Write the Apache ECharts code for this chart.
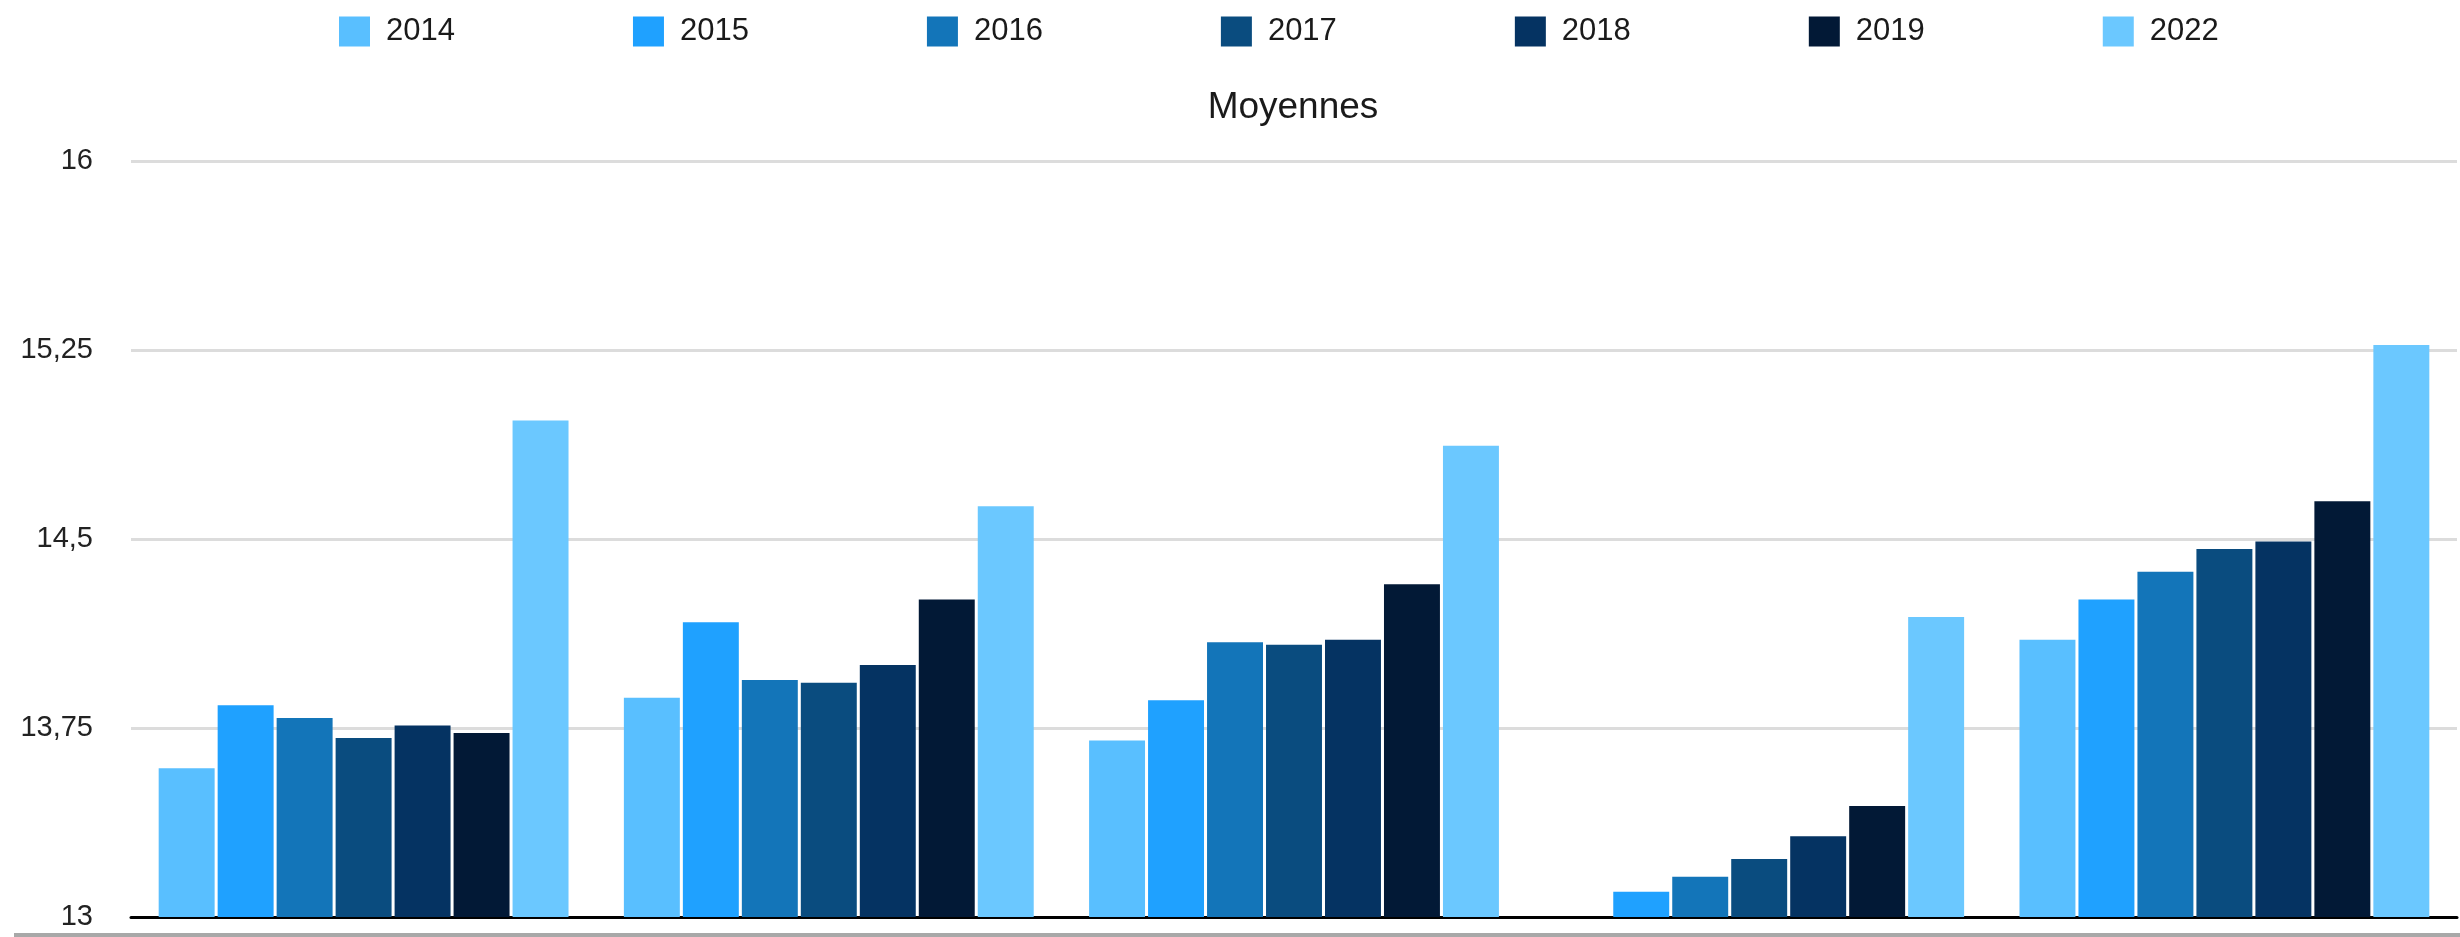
<!DOCTYPE html>
<html>
<head>
<meta charset="utf-8">
<title>Moyennes</title>
<script src="https://cdn.jsdelivr.net/npm/echarts@6/dist/echarts.min.js"></script>
<style>
  html, body { margin: 0; padding: 0; background: #fff; }
  #chart { width: 2460px; height: 937px; }
</style>
</head>
<body>
<div id="chart"></div>
<script>
// groupes (pas d'étiquettes sur l'axe dans l'original)
const groupes = ['1', '2', '3', '4', '5'];
const annees = ['2014', '2015', '2016', '2017', '2018', '2019', '2022'];
const couleurs = ['#59BFFF', '#1FA1FF', '#1375B9', '#0A4C7F', '#053362', '#021936', '#6BC8FF'];

const v2014 = [13.59, 13.87, 13.70, null, 14.10];
const v2015 = [13.84, 14.17, 13.86, 13.10, 14.26];
const v2016 = [13.79, 13.94, 14.09, 13.16, 14.37];
const v2017 = [13.71, 13.93, 14.08, 13.23, 14.46];
const v2018 = [13.76, 14.00, 14.10, 13.32, 14.49];
const v2019 = [13.73, 14.26, 14.32, 13.44, 14.65];
const v2022 = [14.97, 14.63, 14.87, 14.19, 15.27];

const valeurs = [v2014, v2015, v2016, v2017, v2018, v2019, v2022];

const yMin = 13, yMax = 16, yPas = 0.75;

const font = "'Liberation Sans', Arial, Helvetica, sans-serif";

let chart = echarts.init(document.getElementById('chart'));

let series = annees.map((a, i) => {
  return {
    name: a,
    type: 'bar',
    data: valeurs[i],
    barGap: '5.4%',
    barCategoryGap: '11.9%',
    itemStyle: { color: couleurs[i] }
  };
});

let option = {
  animation: false,
  color: couleurs,
  title: {
    text: 'Moyennes',
    left: 1288,
    textAlign: 'center',
    top: 84,
    textStyle: {
      fontFamily: font,
      fontSize: 37,
      fontWeight: 'normal',
      color: '#1a1a1a'
    }
  },
  legend: {
    data: annees,
    left: 339,
    top: 16,
    padding: 0,
    icon: 'rect',
    itemWidth: 31,
    itemHeight: 30,
    itemGap: 178,
    textStyle: {
      fontFamily: font,
      fontSize: 31,
      color: '#1a1a1a',
      padding: [6, 0, 0, 11]
    }
  },
  grid: {
    left: 131,
    right: 3,
    top: 161,
    bottom: 20,
    containLabel: false
  },
  xAxis: {
    type: 'category',
    data: groupes,
    axisLine: { show: true, lineStyle: { color: '#000', width: 3 } },
    axisTick: { show: false },
    axisLabel: { show: false },
    splitLine: { show: false }
  },
  yAxis: {
    type: 'value',
    min: yMin,
    max: yMax,
    interval: yPas,
    axisLine: { show: false },
    axisTick: { show: false },
    axisLabel: {
      margin: 38,
      padding: [8, 0, 0, 0],
      fontFamily: font,
      fontSize: 29,
      color: '#222',
      formatter: (v) => String(v).replace('.', ',')
    },
    splitLine: { show: true, lineStyle: { color: '#dcdcdc', width: 3 } }
  },
  graphic: [
    {
      type: 'rect',
      shape: { x: 14, y: 933, width: 2446, height: 4 },
      style: { fill: '#a8a8a8' },
      silent: true
    }
  ],
  series: series
};

chart.setOption(option);
</script>
</body>
</html>
